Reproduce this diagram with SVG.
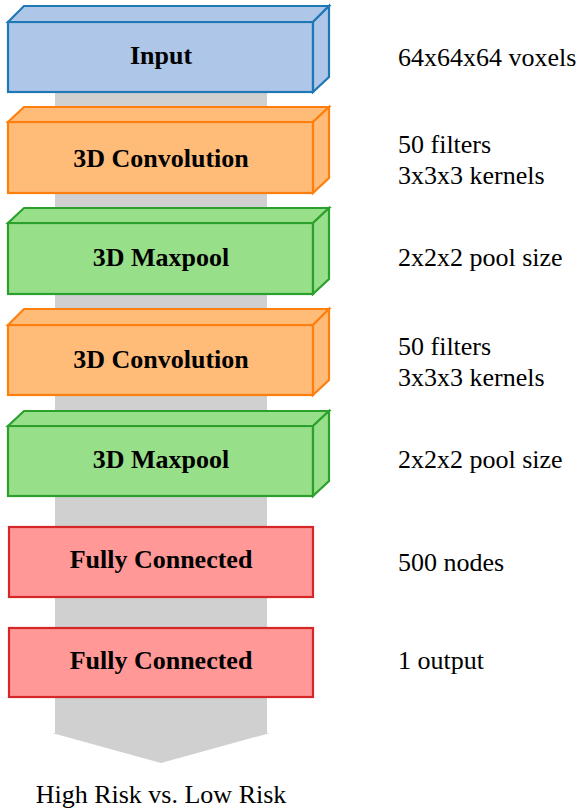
<svg xmlns="http://www.w3.org/2000/svg" width="580" height="810" viewBox="0 0 580 810">
<style>
.lbl{font-family:"Liberation Serif","Times New Roman",serif;font-size:26px;font-weight:bold;text-anchor:middle;fill:#000}
.note{font-family:"Liberation Serif","Times New Roman",serif;font-size:26px;fill:#000}
.box{stroke-width:2.2;stroke-linejoin:miter}
.blue{fill:#aec7e8;stroke:#1f77b4}
.orange{fill:#ffbb78;stroke:#ff7f0e}
.green{fill:#98df8a;stroke:#2ca02c}
.red{fill:#ff9896;stroke:#d62728}
</style>
<g id="flow-arrow">
<polygon points="55,92 267,92 267,733 270,733 161,763 52,733 55,733" fill="#d0d0d0"/>
</g>
<g id="input">
<rect class="box blue" x="8" y="22" width="305" height="70"/>
<polygon class="box blue" points="8,22 24,6 329,6 313,22"/>
<polygon class="box blue" points="313,22 329,6 329,77 313,92"/>
<text class="lbl" x="161" y="64">Input</text>
</g>
<g id="conv1">
<rect class="box orange" x="8" y="122" width="305" height="71"/>
<polygon class="box orange" points="8,122 24,107 329,107 313,122"/>
<polygon class="box orange" points="313,122 329,107 329,178 313,193"/>
<text class="lbl" x="161" y="167">3D Convolution</text>
</g>
<g id="pool1">
<rect class="box green" x="8" y="223" width="305" height="71"/>
<polygon class="box green" points="8,223 24,208 329,208 313,223"/>
<polygon class="box green" points="313,223 329,208 329,279 313,294"/>
<text class="lbl" x="161" y="266">3D Maxpool</text>
</g>
<g id="conv2">
<rect class="box orange" x="8" y="325" width="305" height="70"/>
<polygon class="box orange" points="8,325 24,309 329,309 313,325"/>
<polygon class="box orange" points="313,325 329,309 329,380 313,395"/>
<text class="lbl" x="161" y="368">3D Convolution</text>
</g>
<g id="pool2">
<rect class="box green" x="8" y="426" width="305" height="70"/>
<polygon class="box green" points="8,426 24,411 329,411 313,426"/>
<polygon class="box green" points="313,426 329,411 329,481 313,496"/>
<text class="lbl" x="161" y="468">3D Maxpool</text>
</g>
<g id="fc1">
<rect class="box red" x="9" y="527" width="304" height="70"/>
<text class="lbl" x="161" y="568">Fully Connected</text>
</g>
<g id="fc2">
<rect class="box red" x="9" y="628" width="304" height="69"/>
<text class="lbl" x="161" y="669">Fully Connected</text>
</g>
<g id="notes">
<text class="note" x="398" y="66">64x64x64 voxels</text>
<text class="note" x="398" y="153">50 filters</text>
<text class="note" x="398" y="184">3x3x3 kernels</text>
<text class="note" x="398" y="266">2x2x2 pool size</text>
<text class="note" x="398" y="355">50 filters</text>
<text class="note" x="398" y="386">3x3x3 kernels</text>
<text class="note" x="398" y="468">2x2x2 pool size</text>
<text class="note" x="398" y="571">500 nodes</text>
<text class="note" x="398" y="669">1 output</text>
<text class="note" x="161" y="803" text-anchor="middle">High Risk vs. Low Risk</text>
</g>
</svg>
